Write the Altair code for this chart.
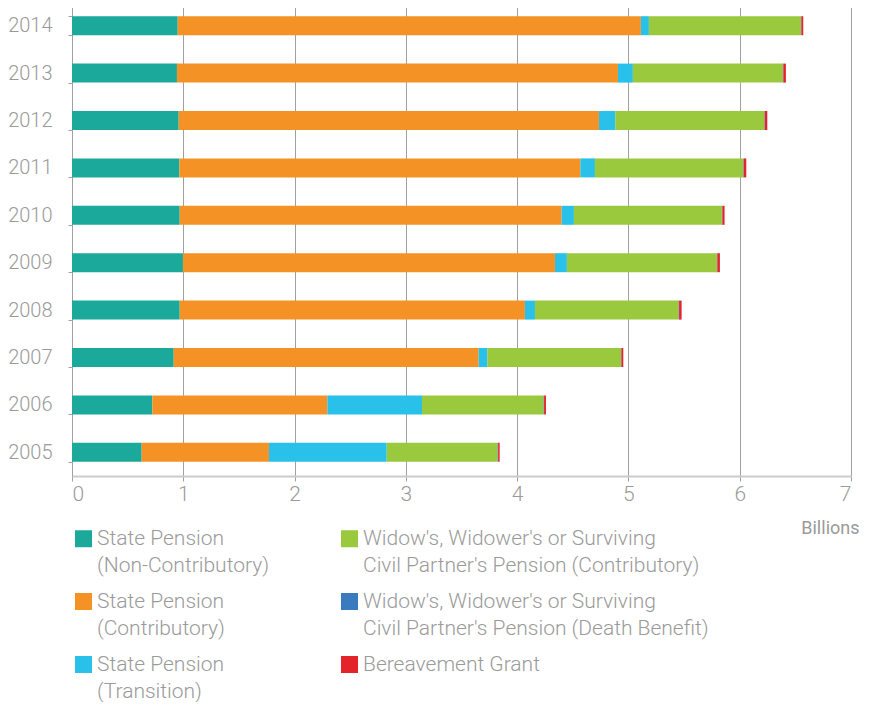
import altair as alt
import pandas as pd

years = ["2014", "2013", "2012", "2011", "2010", "2009", "2008", "2007", "2006", "2005"]

categories = [
    "State Pension\n(Non-Contributory)",
    "State Pension\n(Contributory)",
    "State Pension\n(Transition)",
    "Widow's, Widower's or Surviving\nCivil Partner's Pension (Contributory)",
    "Widow's, Widower's or Surviving\nCivil Partner's Pension (Death Benefit)",
    "Bereavement Grant\n ",
]

# values in billions, per year (same order as `years`)
non_contributory = [0.950, 0.943, 0.959, 0.965, 0.968, 0.997, 0.968, 0.914, 0.722, 0.626]
contributory     = [4.162, 3.963, 3.776, 3.603, 3.432, 3.343, 3.102, 2.740, 1.573, 1.144]
transition       = [0.072, 0.134, 0.147, 0.131, 0.110, 0.107, 0.090, 0.078, 0.850, 1.058]
widow_contrib    = [1.366, 1.348, 1.339, 1.333, 1.330, 1.348, 1.291, 1.201, 1.093, 0.997]
widow_death      = [0.004, 0.004, 0.004, 0.004, 0.004, 0.004, 0.004, 0.004, 0.004, 0.004]
bereavement      = [0.017, 0.023, 0.023, 0.023, 0.020, 0.023, 0.023, 0.017, 0.017, 0.014]

colors = ["#1ba99b", "#f59226", "#29c0ea", "#9bc93e", "#3a7bbf", "#e3242b"]

series = [non_contributory, contributory, transition, widow_contrib, widow_death, bereavement]
rows = []
for ci, (cat, vals) in enumerate(zip(categories, series)):
    for y, v in zip(years, vals):
        rows.append({"year": y, "category": cat, "value": v, "order": ci})
df = pd.DataFrame(rows)

FONT = "Roboto"
GRAY = "#9a9a9a"

chart = alt.Chart(df).mark_bar(size=19).encode(
    x=alt.X(
        "value:Q",
        stack="zero",
        scale=alt.Scale(domain=[0, 7], nice=False, zero=True),
        axis=alt.Axis(
            values=[0, 1, 2, 3, 4, 5, 6, 7],
            format="d",
            grid=True,
            gridColor="#a0a0a0",
            gridWidth=1,
            domainColor="#cccccc",
            domainWidth=2,
            tickColor="#a0a0a0",
            tickSize=5,
            labelFont=FONT,
            labelFontSize=21,
            labelFontWeight=300,
            labelColor=GRAY,
            labelPadding=2,
            title="Billions",
            titleFont=FONT,
            titleFontSize=18,
            titleFontWeight=400,
            titleColor=GRAY,
            titleAlign="right",
            titleBaseline="middle",
            titleX=787,
            titleY=52,
        ),
    ),
    y=alt.Y(
        "year:N",
        sort=years,
        scale=alt.Scale(paddingInner=0.6, paddingOuter=0.3),
        axis=alt.Axis(
            title=None,
            grid=False,
            domainColor="#a0a0a0",
            domainWidth=1,
            tickColor="#a0a0a0",
            tickSize=4,
            tickBand="extent",
            labelFont=FONT,
            labelFontSize=20,
            labelFontWeight=300,
            labelColor=GRAY,
            labelPadding=16,
        ),
    ),
    color=alt.Color(
        "category:N",
        scale=alt.Scale(domain=categories, range=colors),
        legend=alt.Legend(
            title=None,
            orient="none",
            legendX=1,
            legendY=526,
            columns=2,
            columnPadding=69,
            rowPadding=14,
            padding=0,
            symbolType="square",
            symbolSize=289,
            symbolStrokeWidth=0,
            symbolOpacity=1,
            labelFont=FONT,
            labelFontSize=21,
            labelFontWeight=300,
            labelColor=GRAY,
            labelLimit=600,
            labelOffset=3,
            labelBaseline="middle",
            labelExpr="split(datum.label, '\\n')",
        ),
    ),
    order=alt.Order("order:Q", sort="ascending"),
).properties(
    width=779,
    height=474,
    autosize=alt.AutoSizeParams(type="none"),
    padding={"left": 64, "top": -6, "right": 10, "bottom": 226},
).configure(
    style={"guide-label": {"lineHeight": 27}},
).configure_view(stroke=None)

chart.save("out.html", embed_options={"renderer": "svg", "actions": False})
